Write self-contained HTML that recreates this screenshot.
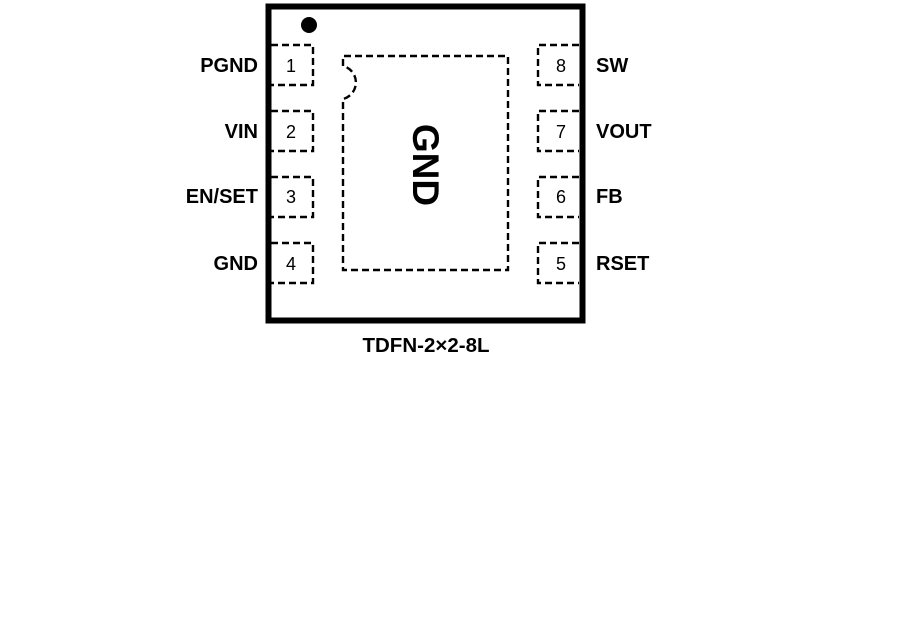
<!DOCTYPE html>
<html><head><style>
html,body{margin:0;padding:0;background:#fff;}
</style></head><body>
<svg width="916" height="626" xmlns="http://www.w3.org/2000/svg" style="display:block">
<rect x="268.5" y="6.5" width="314" height="314" fill="none" stroke="#000" stroke-width="6"/>
<circle cx="309" cy="25" r="8" fill="#000"/>
<g fill="none" stroke="#000" stroke-width="2.4" stroke-dasharray="7,4">
<path d="M271 45 H313 V85 H271"/>
<path d="M271 111 H313 V151 H271"/>
<path d="M271 177 H313 V217 H271"/>
<path d="M271 243 H313 V283 H271"/>
<path d="M579 45 H538 V85 H579"/>
<path d="M579 111 H538 V151 H579"/>
<path d="M579 177 H538 V217 H579"/>
<path d="M579 243 H538 V283 H579"/>
<path d="M343 66 V56 H508 V270 H343 V99 A17 17 0 0 0 343 66"/>
</g>
<g font-family="Liberation Sans, sans-serif" font-size="18" text-anchor="middle" fill="#000">
<text x="291" y="72">1</text><text x="291" y="138">2</text><text x="291" y="203">3</text><text x="291" y="270">4</text>
<text x="561" y="72">8</text><text x="561" y="138">7</text><text x="561" y="203">6</text><text x="561" y="270">5</text>
</g>
<g font-family="Liberation Sans, sans-serif" font-size="20" font-weight="bold" fill="#000">
<g text-anchor="end">
<text x="258" y="72">PGND</text><text x="258" y="138">VIN</text><text x="258" y="203">EN/SET</text><text x="258" y="270">GND</text>
</g>
<text x="596" y="72">SW</text><text x="596" y="138">VOUT</text><text x="596" y="203">FB</text><text x="596" y="270">RSET</text>
<text x="426" y="352" text-anchor="middle" font-size="20.5">TDFN-2×2-8L</text>
</g>
<text x="0" y="0" transform="translate(413,165) rotate(90)" font-family="Liberation Sans, sans-serif" font-size="37" font-weight="bold" text-anchor="middle">GND</text>
</svg>
</body></html>
